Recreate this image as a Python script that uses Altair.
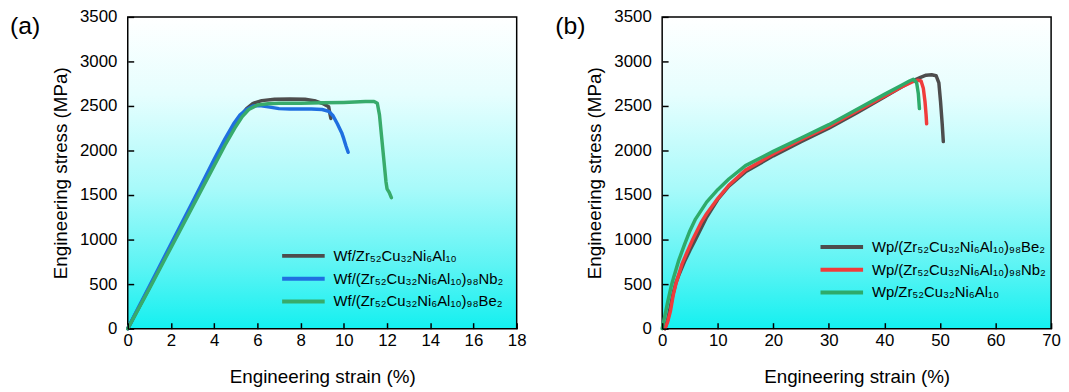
import altair as alt
import pandas as pd

FONT = "Liberation Sans"

# ---------------- panel (a) ----------------
a_names = ["Wf/Zr₅₂Cu₃₂Ni₆Al₁₀", "Wf/(Zr₅₂Cu₃₂Ni₆Al₁₀)₉₈Nb₂", "Wf/(Zr₅₂Cu₃₂Ni₆Al₁₀)₉₈Be₂"]
a_colors = ["#4d4d4d", "#1f6fe0", "#38ab6b"]

a_gray_x = [0, 0.5, 1, 2, 3, 4, 4.5, 4.9, 5.2, 5.5, 5.8, 6.2, 6.8, 7.5, 8.2, 8.7, 9.0, 9.3, 9.35, 9.4]
a_gray_y = [0, 230, 460, 930, 1390, 1860, 2090, 2270, 2380, 2470, 2530, 2560, 2575, 2578, 2575, 2555, 2530, 2490, 2420, 2360]

a_blue_x = [0, 0.5, 1, 2, 3, 4, 4.5, 4.9, 5.2, 5.5, 5.8, 6.1, 6.5, 7.0, 7.5, 8.0, 8.5, 9.0, 9.3, 9.5, 9.7, 9.9, 10.0, 10.1, 10.2]
a_blue_y = [0, 240, 475, 950, 1420, 1900, 2130, 2300, 2400, 2460, 2500, 2505, 2490, 2470, 2465, 2465, 2465, 2460, 2440, 2390, 2300, 2200, 2130, 2050, 1980]

a_green_x = [0, 0.5, 1, 2, 3, 4, 4.5, 5.0, 5.3, 5.6, 6.0, 6.5, 7, 8, 9, 10, 10.5, 11, 11.4, 11.55, 11.65, 11.75, 11.85, 11.95, 12.0, 12.1, 12.2]
a_green_y = [0, 225, 450, 910, 1370, 1830, 2060, 2270, 2380, 2460, 2510, 2525, 2530, 2530, 2535, 2540, 2545, 2550, 2550, 2530, 2400, 2150, 1900, 1650, 1570, 1530, 1470]

# ---------------- panel (b) ----------------
b_names = ["Wp/(Zr₅₂Cu₃₂Ni₆Al₁₀)₉₈Be₂", "Wp/(Zr₅₂Cu₃₂Ni₆Al₁₀)₉₈Nb₂", "Wp/Zr₅₂Cu₃₂Ni₆Al₁₀"]
b_colors = ["#4d4d4d", "#f03c3c", "#2eab6a"]

b_gray_x = [0.5, 1, 1.5, 2, 2.5, 3, 4, 5, 6, 8, 10, 12, 15, 20, 25, 30, 35, 40, 43, 45, 46.5, 47.5, 48.5, 49.3, 49.8, 50.1, 50.4, 50.6]
b_gray_y = [0, 100, 250, 400, 520, 600, 750, 880, 1000, 1250, 1450, 1600, 1760, 1940, 2100, 2250, 2420, 2600, 2710, 2780, 2820, 2845, 2850, 2840, 2760, 2550, 2300, 2100]

b_red_x = [0.5, 1, 1.5, 2, 2.5, 3, 3.6, 4.5, 5.5, 7, 8, 10, 12, 15, 20, 25, 30, 35, 40, 43, 45, 46, 46.6, 47.0, 47.3, 47.5, 47.6]
b_red_y = [0, 80, 200, 380, 510, 610, 730, 860, 1000, 1190, 1290, 1460, 1610, 1780, 1960, 2120, 2270, 2440, 2610, 2710, 2770, 2790, 2780, 2700, 2550, 2400, 2300]

b_green_x = [0, 0.5, 1, 1.6, 2, 3, 4, 5, 6, 8, 10, 12, 15, 20, 25, 30, 35, 40, 43, 44.5, 45.2, 45.8, 46.1, 46.3]
b_green_y = [0, 150, 300, 470, 560, 770, 940, 1100, 1230, 1420, 1560, 1680, 1830, 1990, 2140, 2290, 2460, 2630, 2730, 2780, 2800, 2760, 2640, 2470]

a_xticks = list(range(0, 19, 2))
b_xticks = list(range(0, 71, 10))
yticks = list(range(0, 3501, 500))

grad = alt.LinearGradient(
    gradient="linear",
    stops=[alt.GradientStop(color="#ffffff", offset=0),
           alt.GradientStop(color="#e6fefe", offset=0.25),
           alt.GradientStop(color="#a8fafa", offset=0.55),
           alt.GradientStop(color="#5cf4f4", offset=0.8),
           alt.GradientStop(color="#14f0f0", offset=1)],
    x1=0, x2=0, y1=0, y2=1,
)


def frame(names, xs, ys):
    rows = []
    for n, x, y in zip(names, xs, ys):
        for i, (xv, yv) in enumerate(zip(x, y)):
            rows.append({"series": n, "strain": xv, "stress": yv, "i": i})
    return pd.DataFrame(rows)


def panel(df, names, colors, xmax, xticks, label, label_dx, legx, legy):
    xaxis = alt.Axis(values=xticks, format="d", offset=-6, tickSize=6, domain=False, grid=False,
                     tickColor="black", tickWidth=1.5, labelFont=FONT, labelFontSize=17,
                     labelColor="black", labelPadding=4, labelFlush=False,
                     title="Engineering strain (%)",
                     titleFont=FONT, titleFontSize=19, titleFontWeight="normal",
                     titleColor="black", titlePadding=19, zindex=2)
    yaxis = alt.Axis(values=yticks, format="d", offset=-6, tickSize=6, domain=False, grid=False,
                     tickColor="black", tickWidth=1.5, labelFont=FONT, labelFontSize=17,
                     labelColor="black", labelPadding=11, labelFlush=False,
                     title="Engineering stress (MPa)",
                     titleFont=FONT, titleFontSize=19, titleFontWeight="normal",
                     titleColor="black", titlePadding=9, zindex=2)
    xs = alt.Scale(domain=[0, xmax], nice=False)
    ys = alt.Scale(domain=[0, 3500], nice=False)
    color = alt.Color("series:N", scale=alt.Scale(domain=names, range=colors),
                      legend=alt.Legend(title=None, orient="none", legendX=legx, legendY=legy,
                                        symbolType="stroke", symbolSize=1849, symbolStrokeWidth=4,
                                        clipHeight=23, rowPadding=0, labelFont=FONT,
                                        labelFontSize=15, labelColor="black", labelOffset=7,
                                        labelLimit=400))
    bg = alt.Chart(pd.DataFrame({"t": [label]})).mark_rect(
        fill=grad, stroke="black", strokeWidth=1.5
    ).encode(x=alt.value(0), x2=alt.value("width"), y=alt.value(0), y2=alt.value("height"))
    layers = [bg]
    for n in names:
        layers.append(
            alt.Chart(df).transform_filter(alt.datum.series == n)
            .mark_line(strokeWidth=3.5, strokeJoin="round", strokeCap="round")
            .encode(x=alt.X("strain:Q", scale=xs, axis=xaxis),
                    y=alt.Y("stress:Q", scale=ys, axis=yaxis),
                    color=color, order="i:Q")
        )
    lab = alt.Chart(pd.DataFrame({"t": [label]})).mark_text(
        align="left", baseline="top", font=FONT, fontSize=25, color="black"
    ).encode(x=alt.value(label_dx), y=alt.value(-3), text="t:N")
    layers.append(lab)
    return alt.layer(*layers).properties(width=393, height=315)


dfa = frame(a_names, [a_gray_x, a_blue_x, a_green_x], [a_gray_y, a_blue_y, a_green_y])
dfb = frame(b_names, [b_gray_x, b_red_x, b_green_x], [b_gray_y, b_red_y, b_green_y])

pa = panel(dfa, a_names, a_colors, 18, a_xticks, "(a)", -119, 154, 230)
pb = panel(dfb, b_names, b_colors, 70, b_xticks, "(b)", -108, 158, 221)

chart = (
    alt.hconcat(pa, pb, spacing=29)
    .resolve_scale(color="independent")
    .properties(padding={"left": 2, "top": -2, "right": 0, "bottom": 0}, background="white")
    .configure_view(stroke=None)
)

chart.save("out.html", embed_options={"renderer": "svg", "actions": False})
